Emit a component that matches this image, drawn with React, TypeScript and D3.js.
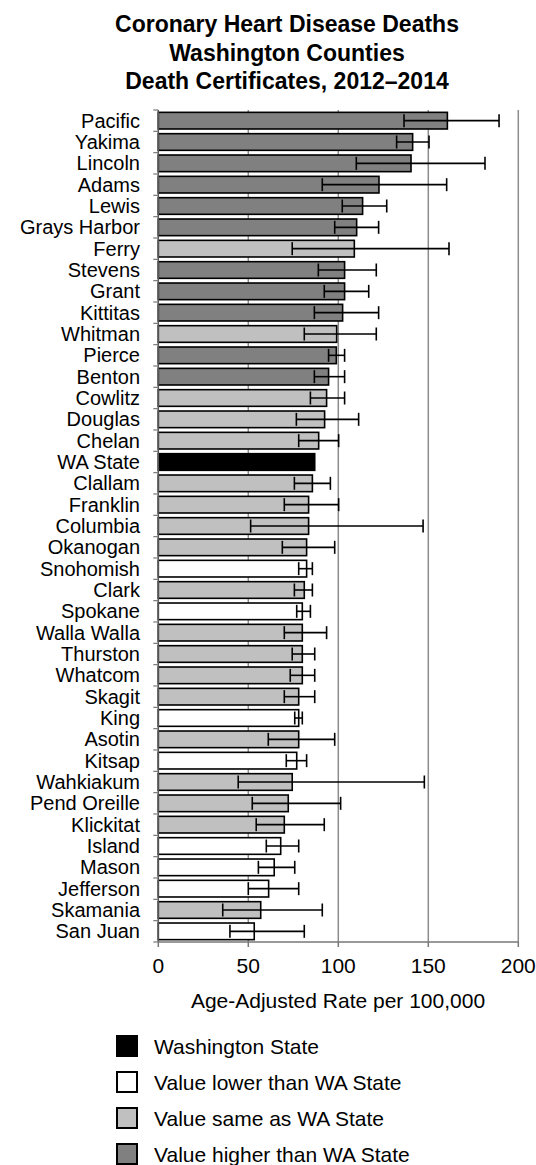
import * as d3 from "d3";

const counties = [
  "Pacific", "Yakima", "Lincoln", "Adams", "Lewis", "Grays Harbor", "Ferry",
  "Stevens", "Grant", "Kittitas", "Whitman", "Pierce", "Benton", "Cowlitz",
  "Douglas", "Chelan", "WA State", "Clallam", "Franklin", "Columbia",
  "Okanogan", "Snohomish", "Clark", "Spokane", "Walla Walla", "Thurston",
  "Whatcom", "Skagit", "King", "Asotin", "Kitsap", "Wahkiakum",
  "Pend Oreille", "Klickitat", "Island", "Mason", "Jefferson", "Skamania",
  "San Juan",
];
const rates = [
  160.6, 141.3, 140.4, 122.6, 113.5, 110.2, 108.9, 103.5, 103.5, 102.4, 99.1,
  98.9, 94.6, 93.5, 92.4, 89.1, 86.9, 85.6, 83.5, 83.5, 82.4, 82.4, 81.1,
  80.0, 80.0, 80.0, 80.0, 78.0, 78.0, 78.0, 76.9, 74.4, 72.2, 70.0, 68.0,
  64.4, 61.3, 56.9, 53.3,
];
const lower = [
  136.5, 132.4, 110.0, 91.1, 102.2, 98.0, 74.4, 88.9, 92.2, 86.7, 81.1, 94.6,
  86.7, 84.5, 76.7, 78.0, null, 75.6, 70.0, 51.3, 68.9, 78.0, 75.6, 76.9,
  70.0, 74.4, 73.3, 70.0, 75.8, 61.1, 71.1, 44.4, 52.2, 54.4, 60.0, 55.6,
  50.0, 35.8, 39.8,
];
const upper = [
  189.3, 150.4, 181.5, 160.2, 126.9, 122.4, 161.5, 121.1, 116.9, 122.4, 121.1,
  103.5, 103.5, 103.5, 111.3, 100.2, null, 95.6, 100.2, 147.1, 98.0, 85.6,
  85.6, 84.5, 93.5, 86.9, 86.9, 86.9, 80.0, 98.0, 82.4, 147.8, 101.3, 92.2,
  78.0, 75.8, 78.0, 91.1, 81.1,
];
// W = state, L = lower, S = same, H = higher than WA State
const groups = [
  "H", "H", "H", "H", "H", "H", "S", "H", "H", "H", "S", "H", "H", "S", "S",
  "S", "W", "S", "S", "S", "S", "L", "S", "L", "S", "S", "S", "S", "L", "S",
  "L", "S", "S", "S", "L", "L", "L", "S", "L",
];
const xTicks = [0, 50, 100, 150, 200];
const titleLines = [
  "Coronary  Heart Disease Deaths",
  "Washington Counties",
  "Death Certificates, 2012\u20132014",
];
const legendKeys = ["W", "L", "S", "H"];
const legendLabels = [
  "Washington State",
  "Value lower than WA State",
  "Value same as WA State",
  "Value higher than WA State",
];

const fills: Record<string, string> = {
  W: "#000000",
  L: "#ffffff",
  S: "#c0c0c0",
  H: "#808080",
};

const font = "'Liberation Sans', Arial, sans-serif";

export default function App() {
  const width = 536;
  const height = 1165;
  const top = 110;
  const bottom = 942;
  const x = d3.scaleLinear().domain([0, 200]).range([158.3, 518.3]);
  const y = d3
    .scaleBand<number>()
    .domain(d3.range(counties.length))
    .range([top, bottom])
    .paddingInner(0.22)
    .paddingOuter(0.11);
  const step = (bottom - top) / counties.length;
  const capH = 13;

  return (
    <svg
      width={width}
      height={height}
      style={{ position: "absolute", left: 0, top: 0, background: "#fff" }}
      fontFamily={font}
    >
      {titleLines.map((t, i) => (
        <text
          key={t}
          x={287}
          y={32 + i * 28.5}
          textAnchor="middle"
          fontWeight="bold"
          fontSize={23}
          fill="#000"
        >
          {t}
        </text>
      ))}

      {/* grid */}
      {xTicks.slice(1).map((t) => (
        <line
          key={t}
          x1={x(t)}
          x2={x(t)}
          y1={top}
          y2={bottom}
          stroke="#8c8c8c"
          strokeWidth={1.5}
        />
      ))}

      {/* bars */}
      {counties.map((c, i) => (
        <rect
          key={c}
          x={x(0)}
          y={y(i)!}
          width={x(rates[i]) - x(0)}
          height={y.bandwidth()}
          fill={fills[groups[i]]}
          stroke="#000"
          strokeWidth={1.6}
        />
      ))}

      {/* confidence intervals */}
      {counties.map((c, i) => {
        const lo = lower[i];
        const hi = upper[i];
        if (lo == null || hi == null) return null;
        const cy = y(i)! + y.bandwidth() / 2;
        return (
          <g key={c} stroke="#000" strokeWidth={1.6}>
            <line x1={x(lo)} x2={x(hi)} y1={cy} y2={cy} />
            <line x1={x(lo)} x2={x(lo)} y1={cy - capH / 2} y2={cy + capH / 2} />
            <line x1={x(hi)} x2={x(hi)} y1={cy - capH / 2} y2={cy + capH / 2} />
          </g>
        );
      })}

      {/* y axis */}
      <line x1={x(0)} x2={x(0)} y1={top} y2={bottom} stroke="#555" strokeWidth={1.5} />
      {d3.range(counties.length + 1).map((i) => (
        <line
          key={i}
          x1={x(0) - 5}
          x2={x(0)}
          y1={top + i * step}
          y2={top + i * step}
          stroke="#777"
          strokeWidth={1.2}
        />
      ))}
      {counties.map((c, i) => (
        <text
          key={c}
          x={140}
          y={y(i)! + y.bandwidth() / 2 + 7}
          textAnchor="end"
          fontSize={20}
          fill="#000"
        >
          {c}
        </text>
      ))}

      {/* x axis */}
      <line x1={x(0)} x2={x(200)} y1={bottom} y2={bottom} stroke="#777" strokeWidth={1.5} />
      {xTicks.map((t) => (
        <g key={t}>
          <line x1={x(t)} x2={x(t)} y1={bottom} y2={bottom + 5} stroke="#777" strokeWidth={1.5} />
          <text x={x(t)} y={973} textAnchor="middle" fontSize={21} fill="#000">
            {t}
          </text>
        </g>
      ))}
      <text x={338} y={1008} textAnchor="middle" fontSize={21} fill="#000">
        Age-Adjusted Rate per 100,000
      </text>

      {/* legend */}
      {legendKeys.map((k, i) => (
        <g key={k} transform={`translate(117, ${1046 + i * 36})`}>
          <rect
            x={0}
            y={-10}
            width={20}
            height={20}
            fill={fills[k]}
            stroke="#000"
            strokeWidth={2}
          />
          <text x={37} y={7.5} fontSize={21} fill="#000">
            {legendLabels[i]}
          </text>
        </g>
      ))}
    </svg>
  );
}
